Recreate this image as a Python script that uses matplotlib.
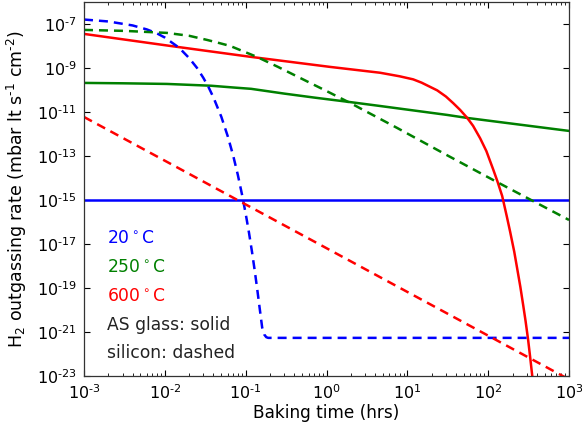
import numpy as np
import matplotlib
matplotlib.use("Agg")
import matplotlib.pyplot as plt
from matplotlib.ticker import FixedLocator, FuncFormatter, LogLocator, NullLocator

# values (log-log axes)
glass_20_t = [1e-3, 1e3]
glass_20_v = [1e-15, 1e-15]

glass_250_t = [1e-3, 3e-3, 1.06e-2, 3.73e-2, 7e-2, 0.117, 0.3, 0.7, 1.96, 4.60, 31.1, 55.0, 1000]
glass_250_v = [2.08e-10, 2.0e-10, 1.87e-10, 1.55e-10, 1.29e-10, 1.12e-10, 6.8e-11, 4.5e-11,
               2.8e-11, 1.86e-11, 7.3e-12, 5.33e-12, 1.37e-12]

glass_600_t = [1e-3, 1.16e-2, 0.117, 1.11, 4.6, 8, 11.8, 15, 23.4, 30, 36.9, 45, 55, 65, 79.6,
               95, 115, 130, 149, 170, 187, 210, 228, 250, 271, 290, 312, 330, 351, 370]
glass_600_v = [3.51e-8, 1e-8, 3.16e-9, 1.11e-9, 6.03e-10, 4.17e-10, 3.02e-10, 2.14e-10, 9.55e-11,
               5.01e-11, 2.51e-11, 1.23e-11, 5.37e-12, 2.34e-12, 6.31e-13, 1.66e-13, 2.51e-14,
               7.08e-15, 1.51e-15, 1.78e-16, 3.55e-17, 4.47e-18, 7.94e-19, 1.12e-19, 1.66e-20,
               3.16e-21, 4.37e-22, 7.59e-23, 1e-23, 1.45e-24]

si_20_t = [1e-3, 2e-3, 4e-3, 6e-3, 8e-3, 1e-2, 1.5e-2, 2e-2, 2.5e-2, 3e-2, 3.5e-2, 4e-2, 5e-2,
           6e-2, 7e-2, 8e-2, 9e-2, 0.10, 0.11, 0.12, 0.13, 0.14, 0.15, 0.16, 0.17, 0.18, 0.19, 1000]
si_20_v = [1.58e-7, 1.29e-7, 8.5e-8, 5.6e-8, 3.7e-8, 2.4e-8, 8.3e-9, 2.8e-9, 1.0e-9, 3.5e-10,
           1.26e-10, 4.5e-11, 6.0e-12, 7.9e-13, 1.05e-13, 1.38e-14, 1.8e-15, 2.4e-16, 3.2e-17,
           4.2e-18, 5.5e-19, 7.2e-20, 1.0e-20, 1.6e-21, 7.6e-22, 5.8e-22, 5.4e-22, 5.4e-22]

si_250_t = [1e-3, 3.21e-3, 1.06e-2, 2e-2, 3.33e-2, 4.5e-2, 6.41e-2, 9e-2, 0.138, 0.25, 0.471,
            1.0, 1.96, 7.48, 31.1, 115, 304, 1000]
si_250_v = [5.33e-8, 4.81e-8, 3.9e-8, 2.88e-8, 1.87e-8, 1.41e-8, 1e-8, 6.0e-9, 3.16e-9, 1.12e-9,
            3.51e-10, 8.9e-11, 2.56e-11, 1.87e-12, 1.07e-13, 8.1e-15, 1.23e-15, 1.23e-16]

si_600_t = [1e-3, 1e3]
si_600_v = [5.9e-12, 7.0e-24]

temp_labels = ["20$^\\circ$C", "250$^\\circ$C", "600$^\\circ$C"]
colors = ["b", "g", "r"]

plt.rcParams['font.family'] = ['DejaVu Sans']
plt.rcParams['mathtext.default'] = 'regular'

HY = "\u2010"  # short hyphen as used in the reference exponents


def pow_label(v, pos):
    e = int(round(np.log10(v)))
    if e < 0:
        return "$10^{%s%d}$" % (HY, -e)
    return "$10^{%d}$" % e


fig = plt.figure(figsize=(5.82, 4.30), dpi=100)
ax = fig.add_axes([0.1443, 0.1256, 0.8334, 0.870])

lw = 1.8
dash = (0, (3.6, 2.4))
ax.plot(glass_20_t, glass_20_v, color="b", lw=lw)
ax.plot(glass_250_t, glass_250_v, color="g", lw=lw)
ax.plot(glass_600_t, glass_600_v, color="r", lw=lw)
ax.plot(si_20_t, si_20_v, color="b", lw=lw, linestyle=dash)
ax.plot(si_250_t, si_250_v, color="g", lw=lw, linestyle=dash)
ax.plot(si_600_t, si_600_v, color="r", lw=lw, linestyle=dash)

ax.set_xscale("log")
ax.set_yscale("log")
ax.set_xlim(1e-3, 1e3)
ax.set_ylim(1e-23, 1e-6)

ax.yaxis.set_major_locator(FixedLocator([10.0 ** e for e in range(-23, -6, 2)]))
ax.yaxis.set_major_formatter(FuncFormatter(pow_label))
ax.yaxis.set_minor_locator(NullLocator())
ax.xaxis.set_major_locator(FixedLocator([10.0 ** e for e in range(-3, 4)]))
ax.xaxis.set_major_formatter(FuncFormatter(pow_label))
ax.xaxis.set_minor_locator(LogLocator(base=10, subs=np.arange(2, 10), numticks=20))

ax.tick_params(which="both", direction="in", top=True, right=True, labelsize=11.5)
ax.tick_params(which="major", length=4.5, width=0.8)
ax.tick_params(which="minor", length=2.5, width=0.6)
ax.tick_params(axis="x", pad=5)
ax.tick_params(axis="y", pad=5)
for s in ax.spines.values():
    s.set_linewidth(0.9)
    s.set_color("#333333")

ax.set_xlabel("Baking time (hrs)", fontsize=12.2, labelpad=2)
ax.set_ylabel("H$_2$ outgassing rate (mbar lt s$^{%s1}$ cm$^{%s2}$)" % (HY, HY),
              fontsize=12.5, labelpad=6)

ys = [0.369, 0.291, 0.214]
for lab, c, y in zip(temp_labels, colors, ys):
    ax.text(0.047, y, lab, color=c, fontsize=12.3, transform=ax.transAxes, va="center")
ax.text(0.047, 0.136, "AS glass: solid", color="#222222", fontsize=12.3,
        transform=ax.transAxes, va="center")
ax.text(0.047, 0.061, "silicon: dashed", color="#222222", fontsize=12.3,
        transform=ax.transAxes, va="center")

fig.savefig("out.png", dpi=100)
